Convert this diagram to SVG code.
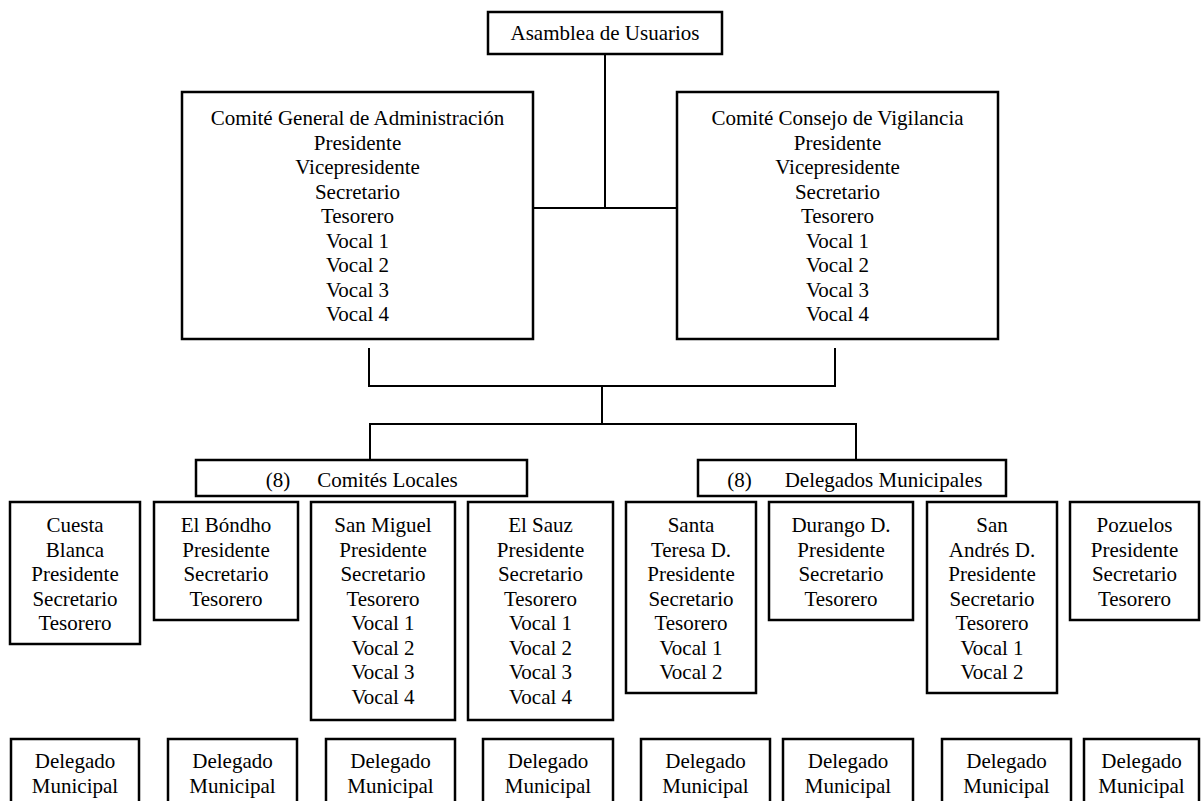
<svg xmlns="http://www.w3.org/2000/svg" width="1202" height="801" viewBox="0 0 1202 801">
<style>
.box{fill:#fff;stroke:#000;stroke-width:2.5}
.ln{fill:none;stroke:#000;stroke-width:2}
text{font-family:"Liberation Serif","Times New Roman",serif;font-size:21px;fill:#000;text-anchor:middle}
</style>
<rect width="1202" height="801" fill="#fff"/>
<g id="connectors">
<path class="ln" d="M605 54V208M533 208H677"/>
<path class="ln" d="M369 348V386H835V348M602 386V424M370 460V424H856V460"/>
</g>
<g id="asamblea"><rect class="box" x="488" y="12" width="234" height="42"/><text x="605" y="40">Asamblea de Usuarios</text></g>
<g id="comite-general"><rect class="box" x="182" y="92" width="351" height="247"/>
<text x="357.5" y="125">Comité General de Administración</text><text x="357.5" y="149.5">Presidente</text><text x="357.5" y="174">Vicepresidente</text><text x="357.5" y="198.5">Secretario</text><text x="357.5" y="223">Tesorero</text><text x="357.5" y="247.5">Vocal 1</text><text x="357.5" y="272">Vocal 2</text><text x="357.5" y="296.5">Vocal 3</text><text x="357.5" y="321">Vocal 4</text></g>
<g id="comite-vigilancia"><rect class="box" x="677" y="92" width="321" height="247"/>
<text x="837.5" y="125">Comité Consejo de Vigilancia</text><text x="837.5" y="149.5">Presidente</text><text x="837.5" y="174">Vicepresidente</text><text x="837.5" y="198.5">Secretario</text><text x="837.5" y="223">Tesorero</text><text x="837.5" y="247.5">Vocal 1</text><text x="837.5" y="272">Vocal 2</text><text x="837.5" y="296.5">Vocal 3</text><text x="837.5" y="321">Vocal 4</text></g>
<g id="comites-locales"><rect class="box" x="196" y="460" width="331" height="36"/><text x="278" y="487">(8)</text><text x="387.5" y="487">Comités Locales</text></g>
<g id="delegados-municipales"><rect class="box" x="698" y="460" width="308" height="36"/><text x="739.5" y="487">(8)</text><text x="883.5" y="487">Delegados Municipales</text></g>
<g id="cuesta-blanca"><rect class="box" x="10" y="502" width="130" height="142"/><text x="75" y="532">Cuesta</text><text x="75" y="556.5">Blanca</text><text x="75" y="581">Presidente</text><text x="75" y="605.5">Secretario</text><text x="75" y="630">Tesorero</text></g>
<g id="el-bondho"><rect class="box" x="154" y="502" width="144" height="118"/><text x="226" y="532">El Bóndho</text><text x="226" y="556.5">Presidente</text><text x="226" y="581">Secretario</text><text x="226" y="605.5">Tesorero</text></g>
<g id="san-miguel"><rect class="box" x="311" y="502" width="144" height="218"/><text x="383" y="532">San Miguel</text><text x="383" y="556.5">Presidente</text><text x="383" y="581">Secretario</text><text x="383" y="605.5">Tesorero</text><text x="383" y="630">Vocal 1</text><text x="383" y="654.5">Vocal 2</text><text x="383" y="679">Vocal 3</text><text x="383" y="703.5">Vocal 4</text></g>
<g id="el-sauz"><rect class="box" x="468" y="502" width="145" height="218"/><text x="540.5" y="532">El Sauz</text><text x="540.5" y="556.5">Presidente</text><text x="540.5" y="581">Secretario</text><text x="540.5" y="605.5">Tesorero</text><text x="540.5" y="630">Vocal 1</text><text x="540.5" y="654.5">Vocal 2</text><text x="540.5" y="679">Vocal 3</text><text x="540.5" y="703.5">Vocal 4</text></g>
<g id="santa-teresa"><rect class="box" x="626" y="502" width="130" height="191"/><text x="691" y="532">Santa</text><text x="691" y="556.5">Teresa D.</text><text x="691" y="581">Presidente</text><text x="691" y="605.5">Secretario</text><text x="691" y="630">Tesorero</text><text x="691" y="654.5">Vocal 1</text><text x="691" y="679">Vocal 2</text></g>
<g id="durango"><rect class="box" x="769" y="502" width="144" height="118"/><text x="841" y="532">Durango D.</text><text x="841" y="556.5">Presidente</text><text x="841" y="581">Secretario</text><text x="841" y="605.5">Tesorero</text></g>
<g id="san-andres"><rect class="box" x="927" y="502" width="130" height="191"/><text x="992" y="532">San</text><text x="992" y="556.5">Andrés D.</text><text x="992" y="581">Presidente</text><text x="992" y="605.5">Secretario</text><text x="992" y="630">Tesorero</text><text x="992" y="654.5">Vocal 1</text><text x="992" y="679">Vocal 2</text></g>
<g id="pozuelos"><rect class="box" x="1070" y="502" width="129" height="118"/><text x="1134.5" y="532">Pozuelos</text><text x="1134.5" y="556.5">Presidente</text><text x="1134.5" y="581">Secretario</text><text x="1134.5" y="605.5">Tesorero</text></g>
<g id="delegado-1"><rect class="box" x="11" y="739" width="128" height="80"/><text x="75" y="768">Delegado</text><text x="75" y="792.5">Municipal</text></g>
<g id="delegado-2"><rect class="box" x="168" y="739" width="129" height="80"/><text x="232.5" y="768">Delegado</text><text x="232.5" y="792.5">Municipal</text></g>
<g id="delegado-3"><rect class="box" x="326" y="739" width="129" height="80"/><text x="390.5" y="768">Delegado</text><text x="390.5" y="792.5">Municipal</text></g>
<g id="delegado-4"><rect class="box" x="483" y="739" width="130" height="80"/><text x="548" y="768">Delegado</text><text x="548" y="792.5">Municipal</text></g>
<g id="delegado-5"><rect class="box" x="641" y="739" width="129" height="80"/><text x="705.5" y="768">Delegado</text><text x="705.5" y="792.5">Municipal</text></g>
<g id="delegado-6"><rect class="box" x="783" y="739" width="130" height="80"/><text x="848" y="768">Delegado</text><text x="848" y="792.5">Municipal</text></g>
<g id="delegado-7"><rect class="box" x="942" y="739" width="129" height="80"/><text x="1006.5" y="768">Delegado</text><text x="1006.5" y="792.5">Municipal</text></g>
<g id="delegado-8"><rect class="box" x="1084" y="739" width="115" height="80"/><text x="1141.5" y="768">Delegado</text><text x="1141.5" y="792.5">Municipal</text></g>
</svg>
